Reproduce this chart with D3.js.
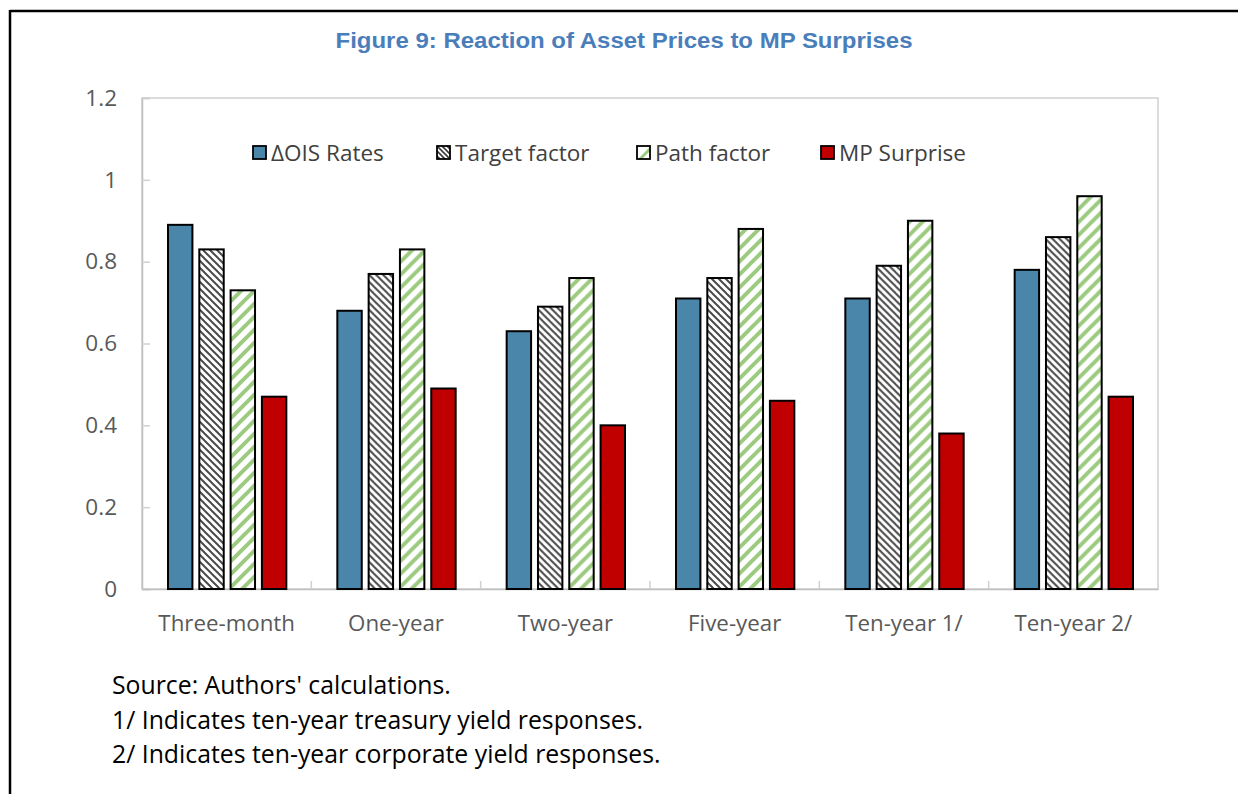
<!DOCTYPE html>
<html><head><meta charset="utf-8">
<script src="https://cdn.jsdelivr.net/npm/d3@7"></script>
<style>body{margin:0;background:#fff}svg{display:block}</style>
</head><body>
<script>
const categories = ["Three-month","One-year","Two-year","Five-year","Ten-year 1/","Ten-year 2/"];
const seriesNames = ["\u0394OIS Rates","Target factor","Path factor","MP Surprise"];
const oisRates     = [0.89,0.68,0.63,0.71,0.71,0.78];
const targetFactor = [0.83,0.77,0.69,0.76,0.79,0.86];
const pathFactor   = [0.73,0.83,0.76,0.88,0.90,0.96];
const mpSurprise   = [0.47,0.49,0.40,0.46,0.38,0.47];
const yTicks = [0,0.2,0.4,0.6,0.8,1,1.2];
const title = "Figure 9: Reaction of Asset Prices to MP Surprises";
const notes = ["Source: Authors' calculations.","1/ Indicates ten-year treasury yield responses.","2/ Indicates ten-year corporate yield responses."];

const seriesData = [oisRates,targetFactor,pathFactor,mpSurprise];
const fills = ["#4A86AA","url(#hatchTarget)","url(#hatchPath)","#C00000"];
const legendFills = ["#4A86AA","url(#hatchTargetS)","url(#hatchPathS)","#C00000"];
const FONT = "Open Sans, Noto Sans, sans-serif";

const W=1238,H=794;
const m={l:142,r:1158,t:98,b:589};
const svg=d3.select("body").append("svg").attr("width",W).attr("height",H);
const defs=svg.append("defs");
function hatch(id,size,color,sw,dir){
  const p=defs.append("pattern").attr("id",id).attr("patternUnits","userSpaceOnUse")
    .attr("width",size).attr("height",size);
  p.append("rect").attr("width",size).attr("height",size).attr("fill","#fff");
  const g=p.append("g").attr("stroke",color).attr("stroke-width",sw);
  if(dir==="\\"){
    g.append("line").attr("x1",-size).attr("y1",0).attr("x2",size).attr("y2",2*size);
    g.append("line").attr("x1",0).attr("y1",0).attr("x2",size).attr("y2",size);
    g.append("line").attr("x1",0).attr("y1",-size).attr("x2",2*size).attr("y2",size);
  } else {
    g.append("line").attr("x1",0).attr("y1",size).attr("x2",size).attr("y2",0);
    g.append("line").attr("x1",-size).attr("y1",size).attr("x2",size).attr("y2",-size);
    g.append("line").attr("x1",0).attr("y1",2*size).attr("x2",2*size).attr("y2",0);
  }
}
hatch("hatchTarget",7,"#4a4a4a",2,"\\");
hatch("hatchPath",13,"#9CCB80",4,"/");
hatch("hatchTargetS",5,"#3a3a3a",1.6,"\\");
hatch("hatchPathS",16,"#9CCB80",3,"/");

// outer frame (left & top)
svg.append("line").attr("x1",10).attr("y1",11).attr("x2",W).attr("y2",11).attr("stroke","#000").attr("stroke-width",2.5);
svg.append("line").attr("x1",10).attr("y1",10).attr("x2",10).attr("y2",H).attr("stroke","#000").attr("stroke-width",2.5);

svg.append("text").attr("x",624).attr("y",48).attr("text-anchor","middle")
  .attr("font-family","Liberation Sans, Arial, sans-serif").attr("font-weight","bold")
  .attr("font-size",22).attr("textLength",577).attr("lengthAdjust","spacingAndGlyphs")
  .attr("fill","#4A7EBB").text(title);

const x0=d3.scaleBand().domain(categories).range([m.l,m.r]).paddingInner(0).paddingOuter(0);
const x1=d3.scaleBand().domain(d3.range(4)).range([26,x0.bandwidth()-25]).paddingInner(0.22);
const y=d3.scaleLinear().domain([0,1.2]).range([m.b,m.t]);

// plot border
svg.append("rect").attr("x",m.l).attr("y",m.t).attr("width",m.r-m.l).attr("height",m.b-m.t)
  .attr("fill","none").attr("stroke","#D0D0D0").attr("stroke-width",1.5);

// y axis
const ya=svg.append("g").attr("transform",`translate(${m.l},0)`)
  .call(d3.axisLeft(y).tickValues(yTicks).tickFormat(d=>d3.format("")(d)).tickSize(-8).tickPadding(25));
ya.select(".domain").attr("stroke","#BFBFBF").attr("stroke-width",1.5);
ya.selectAll(".tick line").attr("stroke","#D0D0D0").attr("stroke-width",1.5);
ya.selectAll(".tick text").attr("font-family",FONT).attr("font-size",22.5).attr("fill","#595959");

// x axis
const xa=svg.append("g").attr("transform",`translate(0,${m.b})`)
  .call(d3.axisBottom(x0).tickSize(0).tickPadding(26));
xa.select(".domain").attr("stroke","#BFBFBF").attr("stroke-width",1.5);
xa.selectAll(".tick text").attr("font-family",FONT).attr("font-size",22.3).attr("fill","#595959");
svg.append("g").selectAll("line").data(categories.slice(1)).join("line")
  .attr("x1",d=>x0(d)).attr("x2",d=>x0(d)).attr("y1",m.b).attr("y2",m.b-8)
  .attr("stroke","#D0D0D0").attr("stroke-width",1.5);

// bars
const groups=svg.append("g").selectAll("g").data(categories).join("g")
  .attr("transform",d=>`translate(${x0(d)},0)`);
groups.selectAll("rect").data((d,i)=>seriesData.map((s,k)=>({k,v:s[i]}))).join("rect")
  .attr("x",d=>x1(d.k)).attr("width",x1.bandwidth())
  .attr("y",d=>y(d.v)).attr("height",d=>y(0)-y(d.v))
  .attr("fill",d=>fills[d.k]).attr("stroke","#000").attr("stroke-width",2);

// legend
const legX=[253,437,637,821];
const lg=svg.append("g").selectAll("g").data(seriesNames).join("g")
  .attr("transform",(d,i)=>`translate(${legX[i]},146)`);
lg.append("rect").attr("width",13).attr("height",13).attr("fill",(d,i)=>legendFills[i])
  .attr("stroke","#000").attr("stroke-width",1.8);
lg.append("text").attr("x",18).attr("y",14.5).attr("font-family",FONT)
  .attr("font-size",22.5).attr("fill","#404040").text(d=>d);

// notes
svg.append("g").selectAll("text").data(notes).join("text")
  .attr("x",112).attr("y",(d,i)=>694+i*34.5)
  .attr("font-family",FONT).attr("font-size",24.8).attr("fill","#000").text(d=>d);
</script>
</body></html>
